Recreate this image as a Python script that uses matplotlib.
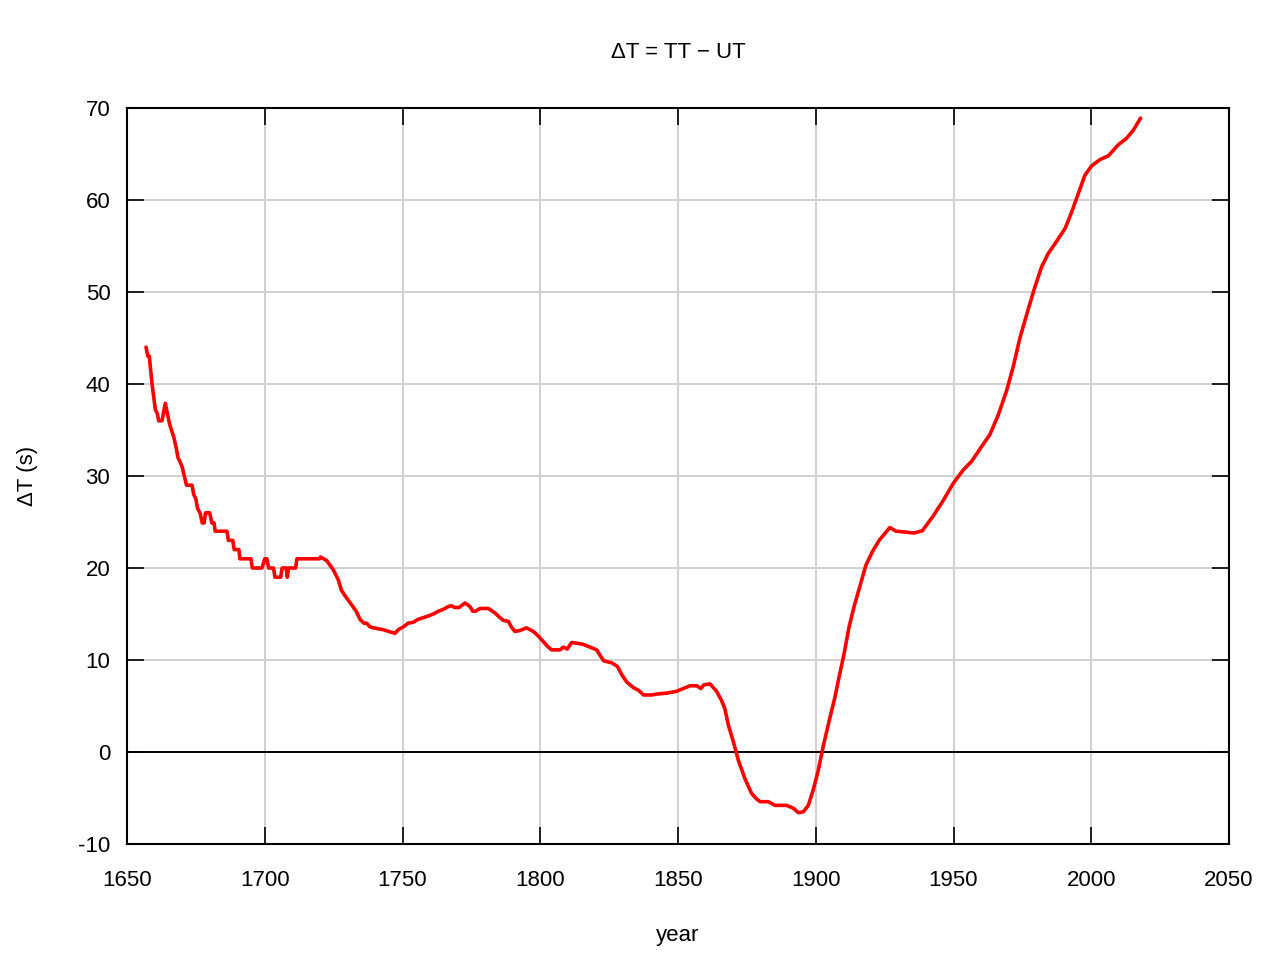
import numpy as np
import matplotlib
matplotlib.use('Agg')
import matplotlib.pyplot as plt

plt.rcParams['font.family'] = ['Liberation Sans', 'DejaVu Sans']
plt.rcParams['axes.unicode_minus'] = False

# Delta T values
years = [1656.9, 1657.6, 1658.1, 1659.1, 1660.3, 1661.0, 1661.5, 1662.7, 1663.9, 1664.5,
         1665.2, 1665.7, 1667.0, 1667.9, 1668.5, 1669.3, 1670.0, 1670.8, 1671.6, 1673.6,
         1674.2, 1675.0, 1675.6, 1676.6, 1677.3, 1678.0, 1678.5, 1680.0, 1680.8, 1681.6,
         1682.0, 1686.3, 1686.8, 1688.4, 1688.9, 1690.6, 1691.0, 1695.0, 1695.5, 1699.0,
         1700.0, 1700.8, 1701.4, 1703.2, 1703.7, 1705.8, 1706.3, 1707.8, 1708.2, 1708.6,
         1711.2, 1711.7, 1719.8, 1720.2, 1722.5, 1724.9, 1726.7, 1727.8, 1729.1, 1731.5,
         1733.2, 1734.6, 1736.0, 1737.0, 1738.2, 1739.4, 1741.0, 1743.0, 1745.0, 1747.3,
         1748.5, 1750.3, 1752.0, 1753.9, 1755.5, 1757.5, 1759.5, 1761.2, 1763.0, 1764.8,
         1766.5, 1767.8, 1769.0, 1770.5, 1772.7, 1774.5, 1775.5, 1776.5, 1778.1, 1781.2,
         1783.6, 1785.0, 1786.6, 1788.4, 1789.5, 1790.8, 1792.6, 1795.0, 1797.5, 1799.3,
         1801.1, 1802.6, 1804.1, 1807.2, 1808.4, 1809.8, 1811.4, 1813.8, 1815.6, 1818.0,
         1820.5, 1821.7, 1823.1, 1825.9, 1828.0, 1829.6, 1831.4, 1833.8, 1835.7, 1837.5,
         1840.5, 1842.3, 1845.9, 1849.5, 1852.0, 1854.4, 1856.8, 1858.3, 1859.4, 1861.6,
         1864.0, 1865.8, 1867.0, 1868.3, 1870.1, 1871.9, 1874.3, 1876.7, 1878.5, 1879.8,
         1882.8, 1885.2, 1889.4, 1891.8, 1893.7, 1895.5, 1897.3, 1899.1, 1900.9, 1902.7,
         1905.2, 1907.0, 1908.5, 1910.3, 1912.1, 1913.9, 1915.8, 1918.2, 1920.6, 1923.0,
         1925.2, 1926.9, 1929.1, 1932.7, 1935.7, 1938.7, 1942.5, 1946.2, 1949.9, 1953.5,
         1956.6, 1960.2, 1963.2, 1966.2, 1969.3, 1971.7, 1974.1, 1977.2, 1979.6, 1982.0,
         1984.4, 1987.4, 1990.5, 1992.9, 1995.3, 1997.7, 2000.1, 2003.2, 2006.2, 2009.8,
         2012.8, 2015.3, 2017.9]
delta_t = [44.0, 43.0, 43.0, 40.0, 37.2, 36.8, 36.0, 36.0, 37.9, 37.0,
           36.0, 35.4, 34.2, 33.0, 32.0, 31.5, 31.0, 30.0, 29.0, 29.0,
           28.0, 27.5, 26.5, 25.9, 24.9, 24.9, 26.0, 26.0, 24.9, 24.9,
           24.0, 24.0, 23.0, 23.0, 22.0, 22.0, 21.0, 21.0, 20.0, 20.0,
           21.0, 21.0, 20.0, 20.0, 19.0, 19.0, 20.0, 20.0, 19.0, 20.0,
           20.0, 21.0, 21.0, 21.2, 20.8, 19.8, 18.7, 17.6, 17.0, 16.0,
           15.3, 14.4, 14.0, 14.0, 13.6, 13.5, 13.4, 13.3, 13.1, 12.9,
           13.3, 13.6, 14.0, 14.1, 14.4, 14.6, 14.8, 15.0, 15.3, 15.5,
           15.8, 15.9, 15.7, 15.7, 16.2, 15.8, 15.3, 15.3, 15.6, 15.6,
           15.1, 14.7, 14.3, 14.2, 13.6, 13.1, 13.2, 13.5, 13.1, 12.6,
           12.0, 11.5, 11.1, 11.1, 11.4, 11.2, 11.9, 11.8, 11.7, 11.4,
           11.1, 10.5, 9.9, 9.7, 9.3, 8.4, 7.6, 7.0, 6.7, 6.2,
           6.2, 6.3, 6.4, 6.6, 6.9, 7.2, 7.2, 6.9, 7.3, 7.4,
           6.6, 5.6, 4.7, 2.9, 1.1, -0.9, -2.9, -4.5, -5.1, -5.4,
           -5.4, -5.8, -5.8, -6.1, -6.6, -6.5, -5.8, -4.1, -2.0, 0.6,
           3.8, 6.0, 8.2, 10.7, 13.6, 15.8, 17.8, 20.3, 21.8, 23.0,
           23.8, 24.4, 24.0, 23.9, 23.8, 24.05, 25.6, 27.3, 29.2, 30.65,
           31.6, 33.2, 34.5, 36.6, 39.3, 41.9, 45.0, 48.2, 50.6, 52.75,
           54.2, 55.5, 56.9, 58.7, 60.7, 62.7, 63.7, 64.4, 64.8, 66.0,
           66.7, 67.6, 68.9]

x_ticks = np.arange(1650, 2051, 50)
y_ticks = np.arange(-10, 71, 10)

fig = plt.figure(figsize=(12.8, 9.6), dpi=100)
ax = fig.add_axes([127 / 1280, 1 - 844 / 960, 1102 / 1280, 736 / 960])

ax.grid(True, color='#d0d0d0', linewidth=1.4)
ax.set_axisbelow(True)
ax.axhline(0, color='black', linewidth=1.4, zorder=2)
ax.plot(years, delta_t, color='red', linewidth=2.6, zorder=3,
        solid_joinstyle='round', solid_capstyle='round')

ax.set_xlim(1650, 2050)
ax.set_ylim(-10, 70)
ax.set_xticks(x_ticks)
ax.set_yticks(y_ticks)
ax.tick_params(direction='in', length=12, width=1.2, top=True, right=True,
               labelsize=16, colors='black')
ax.tick_params(axis='x', pad=19)
ax.tick_params(axis='y', pad=12)
for s in ax.spines.values():
    s.set_linewidth(1.5)

ax.set_xlabel('year', fontsize=16)
ax.xaxis.set_label_coords(0.5, (844 - 935) / 736)
ax.xaxis.label.set_va('center')
ax.set_ylabel('ΔT (s)', fontsize=16)
ax.yaxis.set_label_coords((27 - 127) / 1102, 0.5)
ax.yaxis.label.set_va('center')

fig.text(678 / 1280, 1 - 53 / 960, 'ΔT = TT − UT', fontsize=16, ha='center', va='center')

fig.savefig('out.png', dpi=100)
